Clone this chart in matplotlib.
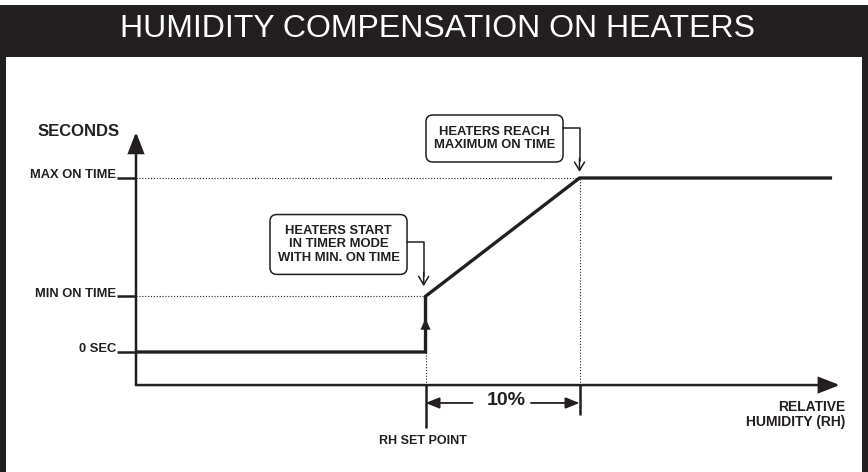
import matplotlib
matplotlib.use("Agg")
import matplotlib.pyplot as plt
from matplotlib.patches import Rectangle, FancyBboxPatch, FancyArrowPatch

# ---- chart values -------------------------------------------------------
rh_setpoint = 18.8          # RH set point, % RH along the axis
rh_band = 10.0              # ramp width above the set point (the "10%")
rh_end = 45.2               # last RH value drawn
zero_sec = 0.0              # "0 SEC" level
min_on_time = 3.2           # "MIN ON TIME" level
max_on_time = 10.0          # "MAX ON TIME" level

level_values = [max_on_time, min_on_time, zero_sec]
level_labels = ["MAX ON TIME", "MIN ON TIME", "0 SEC"]

# heater on-time response versus relative humidity
curve_rh = [0.0, rh_setpoint, rh_setpoint, rh_setpoint + rh_band, rh_end]
curve_on = [zero_sec, zero_sec, min_on_time, max_on_time, max_on_time]

INK = "#231f20"
W, H = 868, 472
fig = plt.figure(figsize=(W / 100, H / 100), dpi=100)

# ---- frame and title bar (pixel coordinates) ----------------------------
bg = fig.add_axes([0, 0, 1, 1])
bg.set_xlim(0, W)
bg.set_ylim(H, 0)
bg.axis("off")
bg.add_patch(Rectangle((0, 5), W, 52, color=INK, lw=0))
bg.add_patch(Rectangle((0, 5), 6, H, color=INK, lw=0))
bg.add_patch(Rectangle((862, 5), 6, H, color=INK, lw=0))
bg.text(437, 37, "HUMIDITY COMPENSATION ON HEATERS", color="white",
        fontsize=23, ha="center", va="baseline",
        family=["Liberation Sans", "DejaVu Sans"])

# ---- chart axes: x in % RH, y in on-time units -------------------------
px_per_rh = 15.4
px_per_unit = 17.4
origin_px = (136, 352)      # pixel of (0 %RH, 0 SEC)
ax = fig.add_axes([0, 0, 1, 1], facecolor="none")
ax.set_xlim(-origin_px[0] / px_per_rh, (W - origin_px[0]) / px_per_rh)
ax.set_ylim((origin_px[1] - H) / px_per_unit, origin_px[1] / px_per_unit)
ax.axis("off")

axis_y = -1.9               # level of the RH axis line
y_top = 12.64               # tip of the seconds axis arrow
x_right = 45.7              # tip of the RH axis arrow

bold = dict(family=["Liberation Sans", "DejaVu Sans"], fontweight="bold", color=INK)

# axis arrows
for start, end in [((0, axis_y), (0, y_top)), ((0, axis_y), (x_right, axis_y))]:
    ax.add_patch(FancyArrowPatch(start, end, arrowstyle="-|>,head_length=0.9,head_width=0.35",
                                 mutation_scale=14, lw=1.8, color=INK,
                                 shrinkA=0, shrinkB=0, joinstyle="miter"))
ax.plot([0, 0], [axis_y, axis_y], color=INK, lw=1.8, solid_capstyle="projecting")

# level ticks, labels and dotted guides
tick_x0 = -1.23
for val, lab in zip(level_values, level_labels):
    ax.plot([tick_x0, 0], [val, val], color=INK, lw=1.8, solid_capstyle="butt")
    ax.text(tick_x0 - 0.05, val + 0.15, lab, fontsize=9.3, ha="right", va="center", **bold)

dot = dict(color=INK, lw=0.8, linestyle=(0, (1, 1.6)))
ax.plot([0, rh_setpoint], [min_on_time, min_on_time], **dot)
ax.plot([0, rh_setpoint + rh_band], [max_on_time, max_on_time], **dot)
ax.plot([rh_setpoint, rh_setpoint], [axis_y, zero_sec], **dot)
ax.plot([rh_setpoint + rh_band] * 2, [axis_y, max_on_time], **dot)

ax.text(-1.05, 12.7, "SECONDS", fontsize=12, ha="right", va="center", **bold)

# response curve
ax.plot(curve_rh, curve_on, color=INK, lw=2.4, solid_joinstyle="miter",
        solid_capstyle="butt", zorder=5)
ax.add_patch(FancyArrowPatch((rh_setpoint, zero_sec), (rh_setpoint, 1.95),
                             arrowstyle="-|>,head_length=0.7,head_width=0.3",
                             mutation_scale=12, lw=0, color=INK, shrinkA=0, shrinkB=0,
                             zorder=6))

# set point / band markers below the RH axis
ax.plot([rh_setpoint] * 2, [axis_y, -4.37], color=INK, lw=1.8, solid_capstyle="butt")
ax.plot([rh_setpoint + rh_band] * 2, [axis_y, -3.62], color=INK, lw=1.8, solid_capstyle="butt")
band_mid = rh_setpoint + rh_band / 2
band_y = -2.93
for a, b in [(band_mid - 1.95, rh_setpoint), (band_mid + 1.85, rh_setpoint + rh_band)]:
    ax.add_patch(FancyArrowPatch((a, band_y), (b, band_y),
                                 arrowstyle="-|>,head_length=0.7,head_width=0.28",
                                 mutation_scale=12, lw=1.3, color=INK,
                                 shrinkA=0, shrinkB=0))
ax.text(band_mid + 0.25, band_y + 0.15, f"{rh_band:.0f}%", fontsize=14,
        ha="center", va="center", **bold)

ax.text(rh_setpoint - 0.15, -5.12, "RH SET POINT", fontsize=9, ha="center", va="center", **bold)
ax.text(46.05, -3.6, "RELATIVE\nHUMIDITY (RH)", fontsize=10, ha="right", va="center",
        linespacing=1.1, multialignment="right", **bold)

# callout boxes
def callout(x0, y0, x1, y1, text, lead_y, lead_x, tip_y):
    ax.add_patch(FancyBboxPatch((x0, y0), x1 - x0, y1 - y0,
                                boxstyle="round,pad=0,rounding_size=0.45",
                                fc="white", ec=INK, lw=1.1, mutation_aspect=px_per_rh / px_per_unit))
    ax.text((x0 + x1) / 2, (y0 + y1) / 2, text, fontsize=9.4, ha="center", va="center",
            linespacing=1.12, **bold)
    ax.plot([x1, lead_x, lead_x], [lead_y, lead_y, tip_y + 0.6], color=INK, lw=1.1)
    ax.add_patch(FancyArrowPatch((lead_x, tip_y + 0.8), (lead_x, tip_y),
                                 arrowstyle="->,head_length=0.5,head_width=0.3",
                                 mutation_scale=12, lw=1.1, color=INK,
                                 shrinkA=0, shrinkB=0))

callout(8.70, 4.46, 17.6, 7.9, "HEATERS START\nIN TIMER MODE\nWITH MIN. ON TIME",
        lead_y=6.32, lead_x=rh_setpoint - 0.12, tip_y=3.78)
callout(18.83, 10.92, 27.73, 13.62, "HEATERS REACH\nMAXIMUM ON TIME",
        lead_y=12.87, lead_x=rh_setpoint + rh_band, tip_y=10.35)

fig.savefig("out.png", dpi=100)
